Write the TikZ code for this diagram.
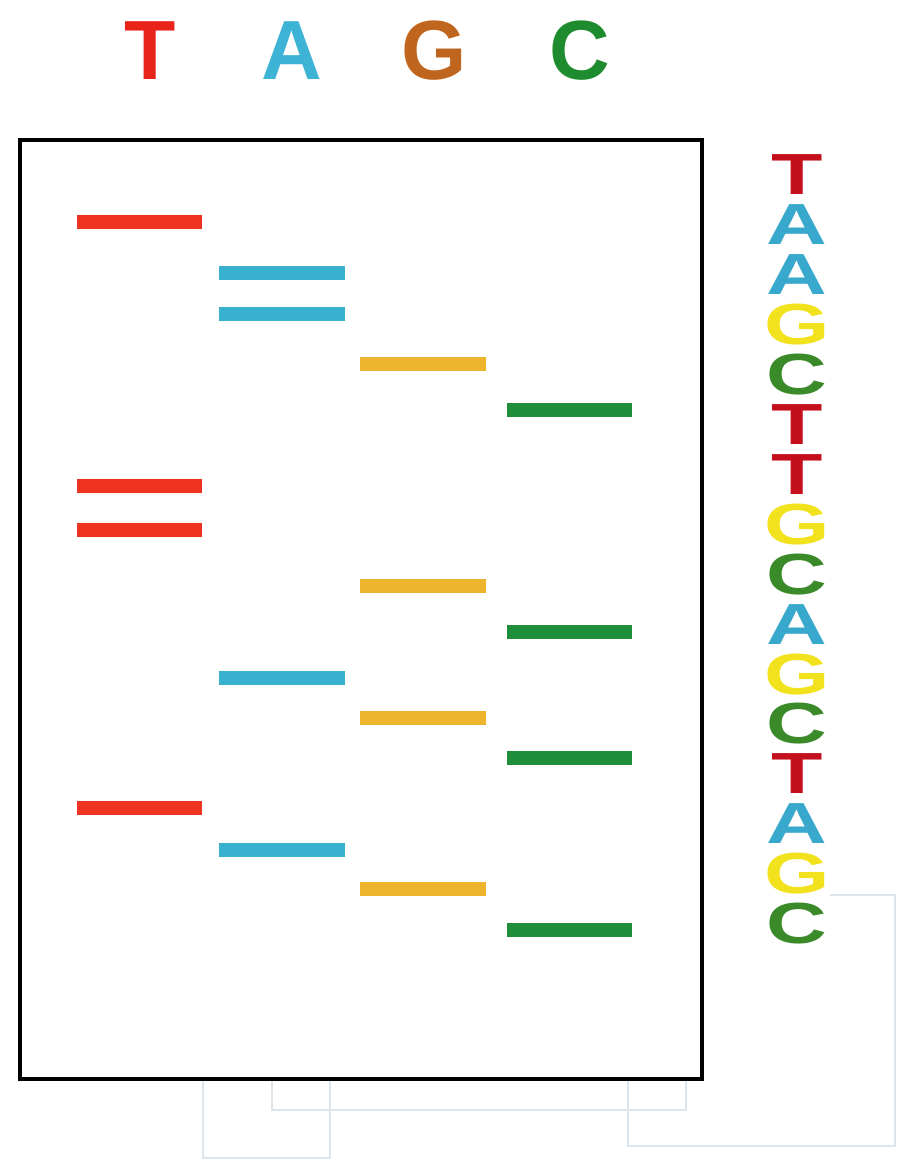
\documentclass[tikz,border=0pt]{standalone}
\usepackage{fontspec}
\setmainfont{Liberation Sans}
\definecolor{topT}{HTML}{E8231A}
\definecolor{topA}{HTML}{3DB3D6}
\definecolor{topG}{HTML}{C0651E}
\definecolor{topC}{HTML}{1E8C2E}
\definecolor{bandT}{HTML}{EE3320}
\definecolor{bandA}{HTML}{3AB0CF}
\definecolor{bandG}{HTML}{EFB42E}
\definecolor{bandC}{HTML}{1F8E3A}
\definecolor{seqT}{HTML}{C4101C}
\definecolor{seqA}{HTML}{38A8CC}
\definecolor{seqG}{HTML}{F2E21E}
\definecolor{seqC}{HTML}{3A8A2A}
\definecolor{faint}{HTML}{DCE4EC}
\tikzset{
  toplabel/.style={font=\bfseries\fontsize{84}{84}\selectfont, inner sep=0pt, anchor=base},
  seqlabel/.style={font=\bfseries\fontsize{58}{58}\selectfont, inner sep=0pt, anchor=base,
    text height=42pt, text depth=0pt},
  gelbox/.style={draw=black, line width=4pt},
  faintline/.style={draw=faint, line width=2.5pt},
}
\begin{document}
\begin{tikzpicture}[x=1pt,y=-1pt]
\useasboundingbox (0,0) rectangle (900,1161);
% faint background lines
\draw[faintline] (272,1079) -- (272,1110) -- (686,1110) -- (686,1079);
\draw[faintline] (203,1079) -- (203,1158) -- (330,1158) -- (330,1079);
\draw[faintline] (830,895) -- (895,895) -- (895,1146) -- (628,1146) -- (628,1079);
% top labels
\node[toplabel, text=topT] (hT) at (150,80) {T};
\node[toplabel, text=topA] (hA) at (292,80) {A};
\node[toplabel, text=topG] (hG) at (434,80) {G};
\node[toplabel, text=topC] (hC) at (580,80) {C};
% gel box
\draw[gelbox] (20,140) rectangle (702,1079);
% bands
\foreach \y in {222,486,530,808} \fill[bandT] (77,\y-7) rectangle (202,\y+7);
\foreach \y in {273,314,678,850} \fill[bandA] (219,\y-7) rectangle (345,\y+7);
\foreach \y in {364,586,718,889} \fill[bandG] (360,\y-7) rectangle (486,\y+7);
\foreach \y in {410,632,758,930} \fill[bandC] (507,\y-7) rectangle (632,\y+7);
% sequence column
\foreach \l [count=\i from 0] in {T,A,A,G,C,T,T,G,C,A,G,C,T,A,G,C}
  \node[seqlabel, text=seq\l] (s\i) at (797,{195+49.9*\i}) {\scalebox{1.45}[1]{\l}};
\end{tikzpicture}
\end{document}
